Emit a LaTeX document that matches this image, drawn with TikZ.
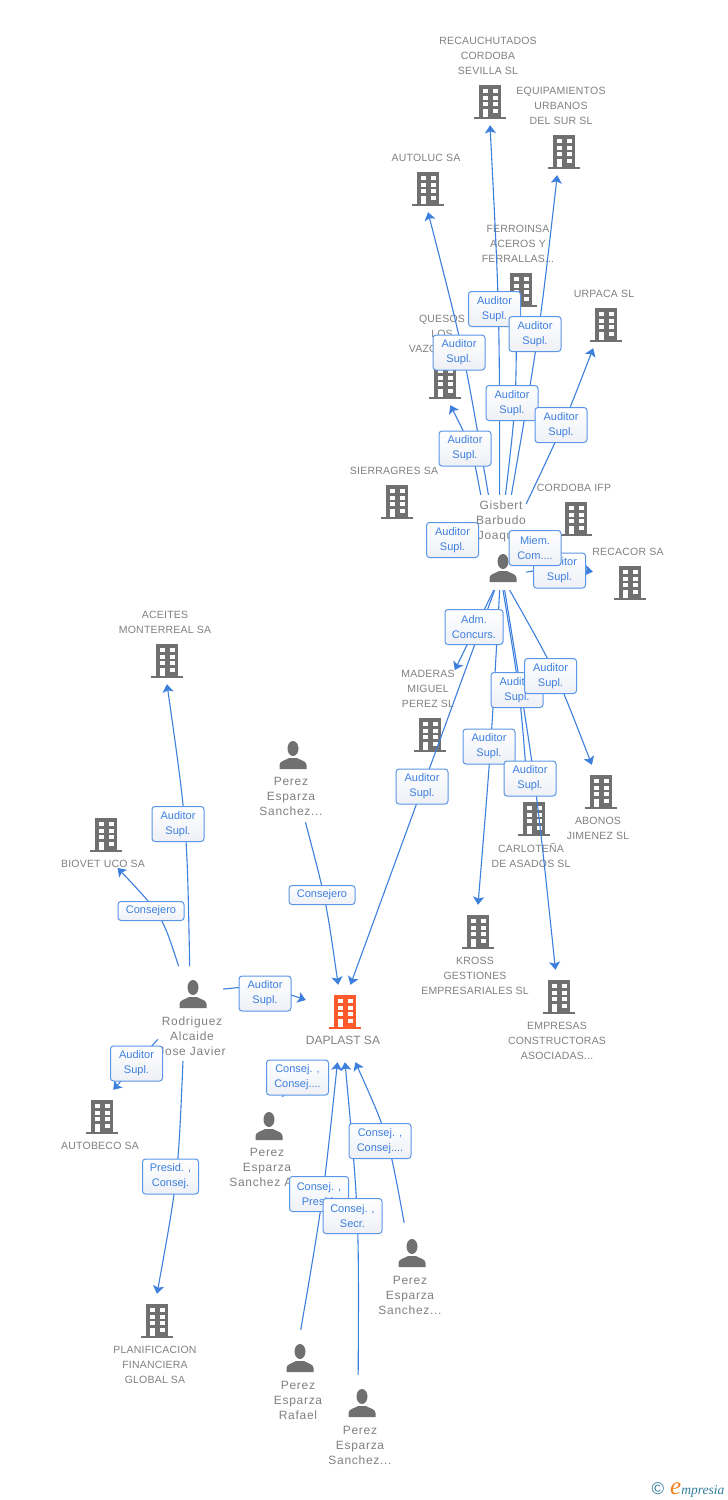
\documentclass[tikz,border=0pt]{standalone}
\usepackage{fontspec}
\usepackage{xcolor}
\setmainfont{Liberation Sans}
\newfontfamily\firmfont[LetterSpace=2]{Liberation Sans}
\newfontfamily\humanfont[LetterSpace=6]{Liberation Sans}
\newfontfamily\logofont{Liberation Serif}
\usetikzlibrary{arrows.meta}
\definecolor{icongray}{HTML}{707070}
\definecolor{textgray}{HTML}{808080}
\definecolor{mainorange}{HTML}{FF5A2B}
\definecolor{linkblue}{HTML}{3C7FDD}
\definecolor{boxblue}{HTML}{5A96E6}
\definecolor{rolefill}{HTML}{EEF0F6}
\definecolor{logoteal}{HTML}{2F7C9C}
\definecolor{logoorange}{HTML}{F58220}
\tikzstyle{link} = [line width=1.1pt,linkblue,-{Stealth[length=8pt,width=11pt,inset=1.8pt]}]
\tikzstyle{plainlink} = [line width=1.1pt,linkblue]
\tikzstyle{firmtext} = [inner sep=0pt,align=center,textgray,font=\firmfont\fontsize{10.5}{15}\selectfont]
\tikzstyle{humantext} = [inner sep=0pt,align=center,textgray,font=\humanfont\fontsize{12}{15}\selectfont]
\tikzstyle{role} = [draw=boxblue,line width=1pt,rounded corners=3pt,top color=white,bottom color=rolefill,text=linkblue,inner sep=0pt,align=center,minimum width=52pt,minimum height=35pt,font=\fontsize{11}{15}\selectfont]
\tikzset{
  firm/.style 2 args={inner sep=0pt,minimum width=40pt,minimum height=50pt,path picture={
    \pgftransformshift{\pgfpointxy{0}{#2}}
    \fill[#1] (-11,-17) rectangle (11,15);
    \fill[#1] (-16,14.5) rectangle (16,17);
    \foreach \y in {-13,-6.5,0} {
      \fill[white] (-7,\y) rectangle (-2,\y+4);
      \fill[white] (2.5,\y) rectangle (7.5,\y+4);
    }
    \fill[white] (-7,7) rectangle (-2,15);
    \fill[white] (2.5,6.5) rectangle (7.5,10.5);}},
  person/.style 2 args={inner sep=0pt,path picture={
    \pgftransformshift{\pgfpointxy{#1}{#2}}
    \fill[icongray] (0,-6.5) ellipse [x radius=5.5,y radius=7.5];
    \fill[icongray] (-13.5,14) -- (-13.5,10) .. controls (-13.5,6) and (-8,5.5) .. (-4,3) -- (4,3) .. controls (8,5.5) and (13.5,6) .. (13.5,10) -- (13.5,14) -- cycle;}}
}

\begin{document}
\begin{tikzpicture}[x=1pt,y=-1pt]
\useasboundingbox (0,0) rectangle (728,1500);
\node[firm={icongray}{2}] (recauchutados) at (490,100) {};
\node[firm={icongray}{2}] (equipamientos) at (564,150) {};
\node[firm={icongray}{2}] (autoluc) at (428,187) {};
\node[firm={icongray}{2}] (ferroinsa) at (521,288) {};
\node[firm={icongray}{2}] (urpaca) at (606,323) {};
\node[firm={icongray}{2}] (quesos) at (445,380) {};
\node[firm={icongray}{2}] (sierragres) at (397,500) {};
\node[firm={icongray}{2}] (cordoba) at (576,517) {};
\node[firm={icongray}{2},minimum width=74pt] (recacor) at (630,581) {};
\node[firm={icongray}{2}] (maderas) at (430,733) {};
\node[firm={icongray}{2}] (abonos) at (601,790) {};
\node[firm={icongray}{2}] (carlotena) at (534,817) {};
\node[firm={icongray}{2}] (kross) at (478,930) {};
\node[firm={icongray}{2}] (empresas) at (559,995) {};
\node[firm={icongray}{2}] (aceites) at (167,659) {};
\node[firm={icongray}{2}] (biovet) at (106,833) {};
\node[firm={icongray}{2}] (autobeco) at (102,1115) {};
\node[firm={icongray}{2}] (planificacion) at (157,1319) {};
\node[firm={mainorange}{-11.5},minimum width=78pt,minimum height=77pt] (daplast) at (345,1023.5) {};

\node[person={0}{25.5},minimum width=46pt,minimum height=95pt] (gisbert) at (503,542.5) {};
\node[person={2.5}{-19.75},minimum width=65pt,minimum height=94.5pt] (rodriguez) at (190.5,1013.75) {};
\node[person={0}{-26.5},minimum width=28pt,minimum height=81pt] (perezA) at (293,781.5) {};
\node[person={0}{7},minimum width=28pt,minimum height=44pt] (perezB) at (269,1119) {};
\node[person={0}{7.5},minimum width=28pt,minimum height=45pt] (perezC) at (412,1245.5) {};
\node[person={0}{6.5},minimum width=28pt,minimum height=43pt] (perezD) at (300,1351.5) {};
\node[person={0}{6.5},minimum width=28pt,minimum height=43pt] (perezE) at (362,1396.5) {};

\node[firmtext] (recauchutadosT) at (488,56) {RECAUCHUTADOS\\CORDOBA\\SEVILLA SL};
\node[firmtext] (equipamientosT) at (561,106) {EQUIPAMIENTOS\\URBANOS\\DEL SUR SL};
\node[firmtext] (autolucT) at (426,158) {AUTOLUC SA};
\node[firmtext] (ferroinsaT) at (518,244) {FERROINSA\\ACEROS Y\\FERRALLAS...};
\node[firmtext] (urpacaT) at (604,294) {URPACA SL};
\node[firmtext] (quesosT) at (442,335) {QUESOS\\LOS\\VAZQUEZ SL};
\node[firmtext] (sierragresT) at (394,471) {SIERRAGRES SA};
\node[firmtext] (cordobaT) at (574,488) {CORDOBA IFP};
\node[firmtext] (recacorT) at (628,552) {RECACOR SA};
\node[firmtext] (maderasT) at (428,689) {MADERAS\\MIGUEL\\PEREZ SL};
\node[firmtext] (abonosT) at (598,828.5) {ABONOS\\JIMENEZ SL};
\node[firmtext] (carlotenaT) at (531,855.5) {CARLOTEÑA\\DE ASADOS SL};
\node[firmtext] (krossT) at (475,976) {KROSS\\GESTIONES\\EMPRESARIALES SL};
\node[firmtext] (empresasT) at (557,1041) {EMPRESAS\\CONSTRUCTORAS\\ASOCIADAS...};
\node[firmtext] (aceitesT) at (165,622.5) {ACEITES\\MONTERREAL SA};
\node[firmtext] (biovetT) at (103,864) {BIOVET UCO SA};
\node[firmtext] (autobecoT) at (100,1146) {AUTOBECO SA};
\node[firmtext] (planificacionT) at (155,1365) {PLANIFICACION\\FINANCIERA\\GLOBAL SA};
\node[firmtext,font=\fontsize{12}{15}\selectfont] (daplastT) at (343,1040) {DAPLAST SA};

\node[humantext] (gisbertT) at (501,521) {Gisbert\\Barbudo\\Joaquin};
\node[humantext] (rodriguezT) at (192,1036) {Rodriguez\\Alcaide\\Jose Javier};
\node[humantext] (perezAT) at (291,796) {Perez\\Esparza\\Sanchez...};
\node[humantext] (perezBT) at (267,1167) {Perez\\Esparza\\Sanchez A...};
\node[humantext] (perezCT) at (410,1295) {Perez\\Esparza\\Sanchez...};
\node[humantext] (perezDT) at (298,1400) {Perez\\Esparza\\Rafael};
\node[humantext] (perezET) at (360,1445) {Perez\\Esparza\\Sanchez...};

\coordinate (stubB) at (312,1062);

\draw[link] (gisbert.107.5) .. controls (464,352) .. (autoluc.south);
\draw[link] (gisbert.115.8) .. controls (472,448) .. (quesos.-78);
\draw[link] (gisbert.94.8) .. controls (499.5,310) .. (recauchutados.south);
\draw[link] (gisbert.87.6) .. controls (516,405) .. (ferroinsa.-100);
\draw[link] (gisbert.80.4) .. controls (539,335) .. (equipamientos.-105);
\draw[link] (gisbert.59.8) .. controls (564,424) .. (urpaca.-117);
\draw[link] (gisbert.-52) .. controls (560,566) .. (recacor.166);
\draw[link] (gisbert.-101.9) -- (maderasT.north east);
\draw[link] (gisbert.-100) -- (daplast.82.6);
\draw[link] (gisbert.-94.8) .. controls (491,747) .. (kross.north);
\draw[link] (gisbert.-90) .. controls (520,692) .. (carlotena.104.5);
\draw[link] (gisbert.-88.8) .. controls (535,775) .. (empresas.98);
\draw[link] (gisbert.-82.8) .. controls (556,672) .. (abonos.110);

\draw[link] (rodriguez.91.8) .. controls (187,825) .. (aceites.south);
\draw[link] (rodriguez.104.9) .. controls (162,915) .. (biovetT.-15);
\draw[link] (rodriguez.37.3) .. controls (262,985) .. (daplast.149);
\draw[link] (rodriguez.-142.2) -- (autobeco.66);
\draw[link] (rodriguez.-99) .. controls (178,1178) .. (planificacion.north);

\draw[link] (perezA.-73.5) .. controls (326,900) .. (daplast.100.3);
\draw[plainlink] (perezB.59.4) -- (stubB);
\draw[link] (perezD.88) .. controls (323,1200) .. (daplast.-101.7);
\draw[link] (perezE.100.5) .. controls (359,1215) .. (daplast.-90);
\draw[link] (perezC.109.6) .. controls (388,1135) .. (daplast.-75.4);

\node[role] (audRecauchutados) at (494.5,309) {Auditor\\Supl.};
\node[role] (audEquipamientos) at (535,334) {Auditor\\Supl.};
\node[role] (audAutoluc) at (459,352.5) {Auditor\\Supl.};
\node[role] (audFerroinsa) at (512,403) {Auditor\\Supl.};
\node[role] (audUrpaca) at (561,425) {Auditor\\Supl.};
\node[role] (audQuesos) at (465,448.5) {Auditor\\Supl.};
\node[role] (audSierragres) at (452.5,540) {Auditor\\Supl.};
\node[role] (audRecacor) at (559.5,570.5) {Auditor\\Supl.};
\node[role] (miemCordoba) at (535,548) {Miem.\\Com....};
\node[role,minimum width=58pt] (admMaderas) at (474,627) {Adm.\\Concurs.};
\node[role] (audCarlotena) at (517,690) {Auditor\\Supl.};
\node[role] (audAbonos) at (550.5,676) {Auditor\\Supl.};
\node[role] (audKross) at (489,746.5) {Auditor\\Supl.};
\node[role] (audEmpresas) at (530,778.5) {Auditor\\Supl.};
\node[role] (audDaplastG) at (422,786.5) {Auditor\\Supl.};
\node[role,minimum width=66pt,minimum height=19pt] (consejeroPerez) at (322,895) {Consejero};
\node[role] (audAceites) at (178,824) {Auditor\\Supl.};
\node[role,minimum width=66pt,minimum height=19pt] (consejeroBiovet) at (151,911) {Consejero};
\node[role] (audDaplastR) at (265,993.5) {Auditor\\Supl.};
\node[role] (audAutobeco) at (136.5,1063.5) {Auditor\\Supl.};
\node[role,minimum width=56pt] (presidPlanif) at (170.5,1176.5) {Presid. ,\\Consej.};
\node[role,minimum width=62pt] (consejB) at (297.5,1077.5) {Consej. ,\\Consej....};
\node[role,minimum width=62pt] (consejC) at (380,1141) {Consej. ,\\Consej....};
\node[role,minimum width=59pt] (consejD) at (319,1194) {Consej. ,\\Presid.};
\node[role,minimum width=59pt] (consejE) at (352.5,1216) {Consej. ,\\Secr.};

\node[inner sep=0pt,text=logoteal,font=\fontsize{17}{17}\selectfont] (logoC) at (658,1489) {©};
\node[inner sep=0pt,anchor=base west,text=logoteal,font=\logofont\itshape\fontsize{13.5}{15}\selectfont] (logoE) at (670,1494) {\textcolor{logoorange}{\fontsize{25}{25}\selectfont e}mpresia};
\end{tikzpicture}
\end{document}
